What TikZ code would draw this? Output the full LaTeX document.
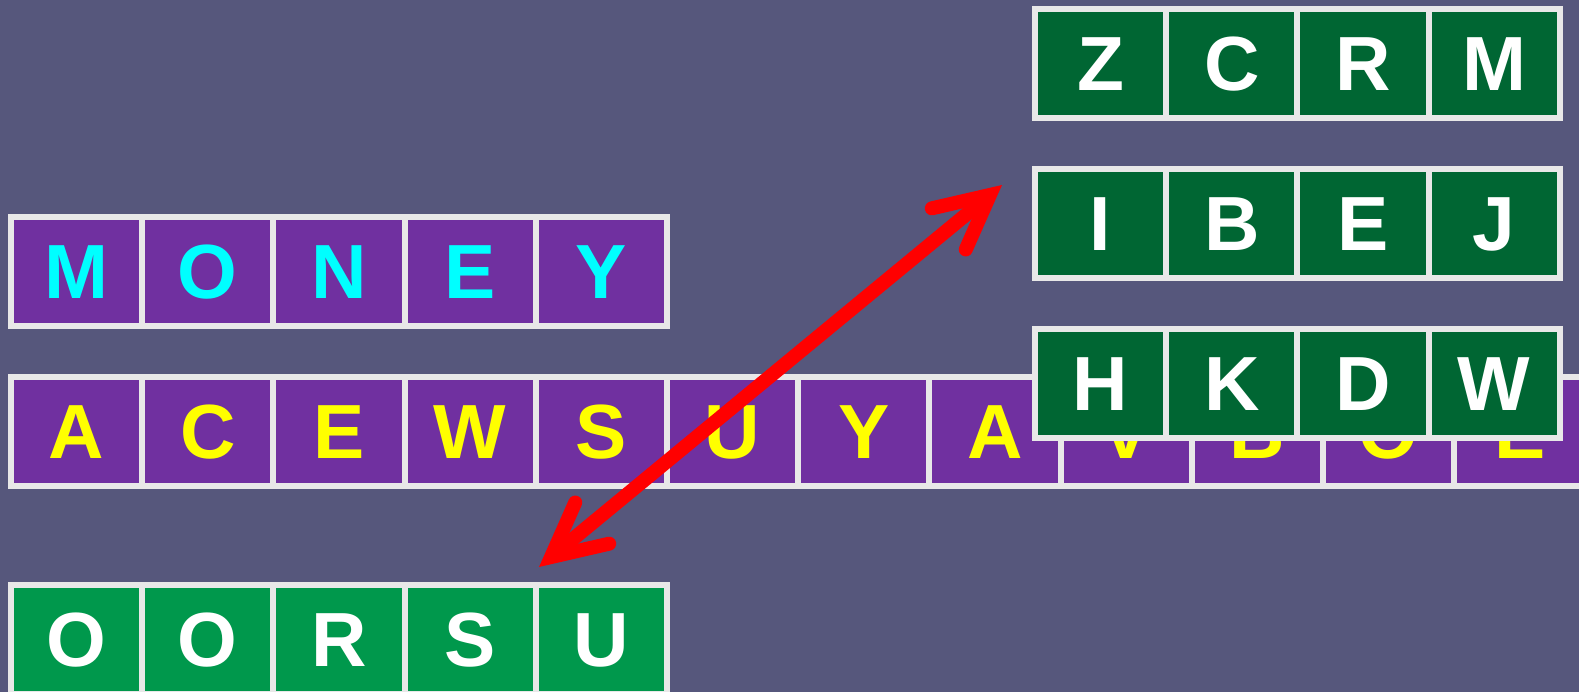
\documentclass[tikz,border=0pt]{standalone}
\usepackage{fontspec}
\setmainfont{Liberation Sans}
\usetikzlibrary{arrows.meta}

\definecolor{slatebg}{HTML}{56577C}
\definecolor{cellpurple}{HTML}{7030A0}
\definecolor{darkgreen}{HTML}{006633}
\definecolor{lightgreen}{HTML}{00984C}
\definecolor{framegray}{HTML}{E8E8E8}
\definecolor{keycyan}{HTML}{00FFFF}
\definecolor{plainyellow}{HTML}{FFFF00}
\definecolor{swapred}{HTML}{FF0000}

\tikzset{
  tile/.style={draw=framegray, line width=4.5pt, minimum width=98.4pt, minimum height=81.75pt,
    inner sep=0pt, text height=41.2pt, text depth=0pt,
    font=\fontsize{57.6}{60}\selectfont\bfseries},
  keytile/.style={tile, fill=cellpurple, text=keycyan},
  plaintile/.style={tile, fill=cellpurple, text=plainyellow},
  codetile/.style={tile, fill=darkgreen, text=white},
  outtile/.style={tile, fill=lightgreen, text=white},
  swaparrow/.style={draw=swapred, line width=10.5pt,
    {Straight Barb[length=40pt, width=40pt, line cap=round, line join=miter]}-{Straight Barb[length=40pt, width=40pt, line cap=round, line join=miter]}}
}

\begin{document}
\begin{tikzpicture}[x=0.75pt, y=-0.75pt]
\fill[slatebg] (0,0) rectangle (1579,692);
\useasboundingbox (0,0) rectangle (1579,692);
\begin{scope}
\clip (0,0) rectangle (1579,692);
% key word
\node[keytile] (k1) at (76.6,271.5) {M};
\node[keytile] (k2) at (207.8,271.5) {O};
\node[keytile] (k3) at (339,271.5) {N};
\node[keytile] (k4) at (470.2,271.5) {E};
\node[keytile] (k5) at (601.4,271.5) {Y};
% long row
\node[plaintile] (p1) at (76.6,431.5) {A};
\node[plaintile] (p2) at (207.8,431.5) {C};
\node[plaintile] (p3) at (339,431.5) {E};
\node[plaintile] (p4) at (470.2,431.5) {W};
\node[plaintile] (p5) at (601.4,431.5) {S};
\node[plaintile] (p6) at (732.6,431.5) {U};
\node[plaintile] (p7) at (863.8,431.5) {Y};
\node[plaintile] (p8) at (995,431.5) {A};
\node[plaintile] (p9) at (1126.2,431.5) {V};
\node[plaintile] (p10) at (1257.4,431.5) {B};
\node[plaintile] (p11) at (1388.6,431.5) {O};
\node[plaintile] (p12) at (1519.8,431.5) {E};
% groups on the right
\node[codetile] (za) at (1100.6,63.5) {Z};
\node[codetile] (zb) at (1231.8,63.5) {C};
\node[codetile] (zc) at (1363,63.5) {R};
\node[codetile] (zd) at (1494.2,63.5) {M};
\node[codetile] (ia) at (1100.6,223.5) {I};
\node[codetile] (ib) at (1231.8,223.5) {B};
\node[codetile] (ic) at (1363,223.5) {E};
\node[codetile] (id) at (1494.2,223.5) {J};
\node[codetile] (ha) at (1100.6,383) {H};
\node[codetile] (hb) at (1231.8,383) {K};
\node[codetile] (hc) at (1363,383) {D};
\node[codetile] (hd) at (1494.2,383) {W};
% result
\node[outtile] (o1) at (76.6,639.5) {O};
\node[outtile] (o2) at (207.8,639.5) {O};
\node[outtile] (o3) at (339,639.5) {R};
\node[outtile] (o4) at (470.2,639.5) {S};
\node[outtile] (o5) at (601.4,639.5) {U};
\end{scope}
% swap
\coordinate (swapup) at (1002,185);
\coordinate (swapdown) at (539,567);
\draw[swaparrow] (swapdown) -- (swapup);
\end{tikzpicture}
\end{document}
